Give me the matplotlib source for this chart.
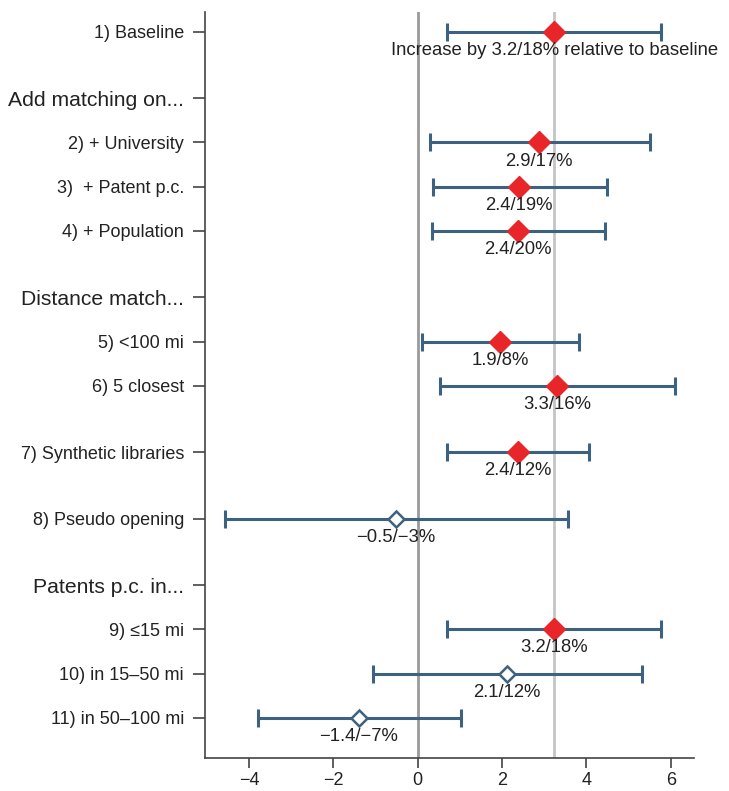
import matplotlib.pyplot as plt

# --- data ---
labels = ["1) Baseline", "Add matching on...", "2) + University", "3)  + Patent p.c.",
          "4) + Population", "Distance match...", "5) <100 mi", "6) 5 closest",
          "7) Synthetic libraries", "8) Pseudo opening", "Patents p.c. in...",
          "9) \u226415 mi", "10) in 15\u201350 mi", "11) in 50\u2013100 mi"]
rows = [0, 1.5, 2.5, 3.5, 4.5, 6, 7, 8, 9.5, 11, 12.5, 13.5, 14.5, 15.5]
headers = [1, 5, 10]  # index of section header labels

est_rows = [0, 2.5, 3.5, 4.5, 7, 8, 9.5, 11, 13.5, 14.5, 15.5]
est = [3.24, 2.88, 2.40, 2.38, 1.95, 3.31, 2.38, -0.52, 3.24, 2.12, -1.40]
lo = [0.69, 0.29, 0.36, 0.33, 0.10, 0.52, 0.69, -4.57, 0.69, -1.07, -3.79]
hi = [5.76, 5.50, 4.48, 4.45, 3.83, 6.10, 4.05, 3.55, 5.76, 5.31, 1.02]
signif = [True, True, True, True, True, True, True, False, True, False, False]
notes = ["Increase by 3.2/18% relative to baseline", "2.9/17%", "2.4/19%", "2.4/20%",
         "1.9/8%", "3.3/16%", "2.4/12%", "\u22120.5/\u22123%", "3.2/18%", "2.1/12%",
         "\u22121.4/\u22127%"]
baseline = 3.24

plt.rcParams['font.family'] = ['Liberation Sans', 'DejaVu Sans']

fig = plt.figure(figsize=(7.29, 7.91), dpi=100)
ax = fig.add_axes([0.281, 0.042, 0.671, 0.943])

blue = "#3d6281"
red = "#e8262a"

ax.axvline(0, color="#9a9a9a", lw=2, zorder=1)
ax.axvline(baseline, color="#c4c4c4", lw=2, zorder=1)

for y, e, l, h, s, t in zip(est_rows, est, lo, hi, signif, notes):
    ax.errorbar([e], [y], xerr=[[e - l], [h - e]], fmt="none", ecolor=blue,
                elinewidth=2.2, capsize=6.5, capthick=2.2, zorder=2)
    if s:
        ax.plot(e, y, marker="D", ms=11, color=red, mec=red, zorder=3)
    else:
        ax.plot(e, y, marker="D", ms=8.5, mfc="white", mec=blue, mew=1.8, zorder=3)
    ax.text(e, y + 0.42, t, ha="center", va="center", fontsize=13.3, color="#222222")

ax.set_yticks(rows)
ax.set_yticklabels(labels)
for i, tl in enumerate(ax.get_yticklabels()):
    tl.set_fontsize(15.2 if i in headers else 13)
ax.set_ylim(16.4, -0.45)
ax.set_xlim(-5.05, 6.55)
ax.set_xticks([-4, -2, 0, 2, 4, 6])
ax.set_xticklabels(["\u22124", "\u22122", "0", "2", "4", "6"])

for side in ["top", "right"]:
    ax.spines[side].set_visible(False)
for side in ["left", "bottom"]:
    ax.spines[side].set_color("#444444")
    ax.spines[side].set_linewidth(1.2)
ax.tick_params(axis="y", length=9, width=1.2, color="#444444", pad=6, labelcolor="#222222")
ax.tick_params(axis="x", length=7, width=1.2, color="#444444", labelsize=13, labelcolor="#222222")

fig.savefig("out.png", dpi=100)
